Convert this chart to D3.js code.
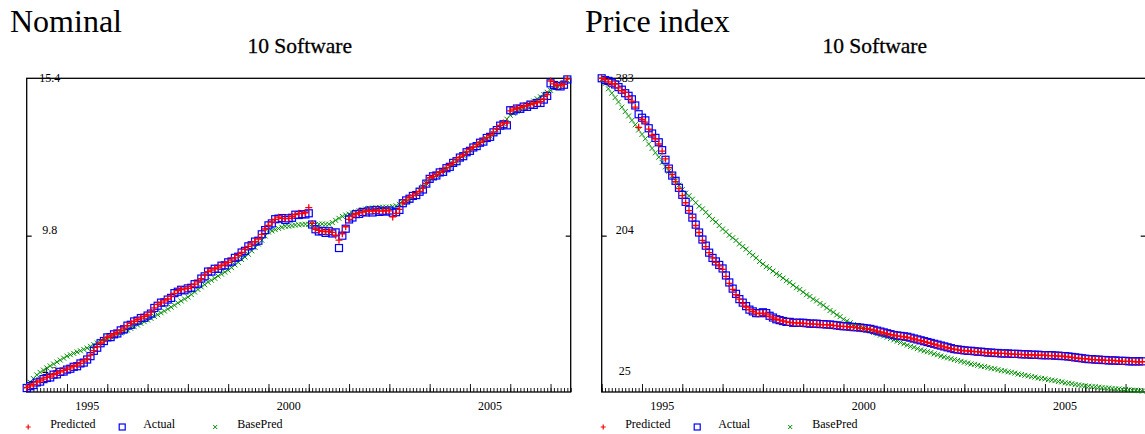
<!DOCTYPE html>
<html>
<head>
<meta charset="utf-8">
<script src="https://cdn.jsdelivr.net/npm/d3@7"></script>
<style>
  html, body { margin: 0; padding: 0; background: #fff; }
  svg { display: block; }
  text { font-family: "Liberation Serif", "Times New Roman", serif; fill: #000; }
</style>
</head>
<body>
<svg id="chart" width="1145" height="434"></svg>
<script>
// Monthly observations, January 1994 onward
const startYear = 1994;
const endYear = 2007.5;
const yearLabels = [1995, 2000, 2005];
const legendLabels = ["Predicted", "Actual", "BasePred"];
const panelTitles = ["Nominal", "Price index"];
const subTitle = "10 Software";

// Nominal
const nominalTicks = ["15.4", "9.8", "4.2"];
const nominalRange = [4.2, 15.4];
const nominalActual = [
  4.34, 4.41, 4.45, 4.54, 4.57, 4.66, 4.70, 4.72, 4.82, 4.83, 4.92, 4.93,
  5.00, 5.03, 5.10, 5.12, 5.22, 5.25, 5.36, 5.48, 5.67, 5.78, 5.94, 6.02,
  6.15, 6.16, 6.26, 6.29, 6.40, 6.44, 6.57, 6.60, 6.72, 6.75, 6.84, 6.85,
  6.93, 7.00, 7.20, 7.28, 7.39, 7.40, 7.50, 7.56, 7.73, 7.78, 7.85, 7.83,
  7.90, 7.92, 8.05, 8.07, 8.25, 8.33, 8.50, 8.50, 8.60, 8.60, 8.71, 8.72,
  8.83, 8.86, 8.99, 9.03, 9.18, 9.24, 9.40, 9.44, 9.57, 9.60, 9.83, 9.98,
  10.15, 10.22, 10.37, 10.39, 10.41, 10.34, 10.40, 10.42, 10.53, 10.52, 10.55, 10.54,
  10.58, 10.18, 10.01, 9.93, 9.95, 9.88, 9.94, 9.86, 9.90, 9.34, 9.78, 10.03,
  10.36, 10.43, 10.55, 10.56, 10.63, 10.61, 10.68, 10.61, 10.69, 10.63, 10.67, 10.64,
  10.68, 10.60, 10.62, 10.70, 10.94, 11.04, 11.10, 11.20, 11.23, 11.35, 11.43, 11.64,
  11.81, 11.90, 11.93, 12.04, 12.06, 12.19, 12.24, 12.38, 12.44, 12.57, 12.62, 12.76,
  12.81, 12.93, 12.98, 13.10, 13.14, 13.27, 13.31, 13.47, 13.55, 13.71, 13.76, 13.72,
  14.26, 14.25, 14.32, 14.31, 14.39, 14.38, 14.46, 14.45, 14.52, 14.52, 14.64, 14.77,
  15.22, 15.16, 15.13, 15.11, 15.17, 15.36
];
const nominalPredicted = [
  4.36, 4.42, 4.47, 4.55, 4.60, 4.66, 4.72, 4.77, 4.82, 4.87, 4.92, 4.97,
  5.01, 5.06, 5.12, 5.16, 5.22, 5.30, 5.38, 5.52, 5.68, 5.82, 5.95, 6.05,
  6.15, 6.20, 6.27, 6.33, 6.40, 6.48, 6.57, 6.65, 6.72, 6.78, 6.84, 6.90,
  6.95, 7.05, 7.20, 7.33, 7.38, 7.45, 7.52, 7.62, 7.72, 7.82, 7.86, 7.88,
  7.90, 7.97, 8.05, 8.13, 8.25, 8.38, 8.50, 8.55, 8.60, 8.66, 8.71, 8.77,
  8.83, 8.91, 8.99, 9.08, 9.18, 9.29, 9.40, 9.48, 9.57, 9.66, 9.83, 10.02,
  10.15, 10.27, 10.36, 10.44, 10.40, 10.39, 10.40, 10.47, 10.53, 10.58, 10.57, 10.60,
  10.78, 10.22, 10.01, 9.97, 9.94, 9.93, 9.93, 9.90, 9.80, 9.62, 9.85, 10.10,
  10.36, 10.48, 10.55, 10.60, 10.62, 10.65, 10.67, 10.66, 10.68, 10.67, 10.66, 10.68,
  10.67, 10.45, 10.58, 10.72, 10.96, 11.05, 11.15, 11.21, 11.28, 11.36, 11.48, 11.65,
  11.85, 11.90, 11.97, 12.04, 12.11, 12.20, 12.29, 12.39, 12.49, 12.58, 12.67, 12.77,
  12.86, 12.94, 13.03, 13.11, 13.19, 13.28, 13.36, 13.48, 13.60, 13.72, 13.80, 13.80,
  14.24, 14.30, 14.33, 14.36, 14.40, 14.43, 14.47, 14.50, 14.53, 14.57, 14.66, 14.82,
  15.30, 15.20, 15.14, 15.16, 15.18, 15.38
];
const nominalBase = [
  4.41, 4.55, 4.68, 4.81, 4.90, 4.98, 5.06, 5.13, 5.20, 5.27, 5.34, 5.41,
  5.48, 5.53, 5.58, 5.63, 5.67, 5.72, 5.77, 5.83, 5.89, 5.95, 6.01, 6.07,
  6.13, 6.17, 6.22, 6.27, 6.31, 6.36, 6.41, 6.47, 6.53, 6.59, 6.65, 6.71,
  6.77, 6.83, 6.90, 6.96, 7.03, 7.09, 7.16, 7.23, 7.30, 7.38, 7.45, 7.52,
  7.59, 7.68, 7.77, 7.86, 7.95, 8.03, 8.12, 8.19, 8.26, 8.34, 8.41, 8.48,
  8.55, 8.64, 8.74, 8.83, 8.93, 9.02, 9.12, 9.24, 9.36, 9.48, 9.62, 9.77,
  9.91, 9.95, 10.00, 10.04, 10.08, 10.12, 10.12, 10.14, 10.16, 10.17, 10.18, 10.19,
  10.19, 10.20, 10.18, 10.19, 10.20, 10.19, 10.19, 10.25, 10.33, 10.40, 10.47, 10.52,
  10.55, 10.59, 10.63, 10.67, 10.70, 10.73, 10.76, 10.77, 10.78, 10.79, 10.80, 10.80,
  10.80, 10.82, 10.85, 10.90, 10.96, 11.00, 11.05, 11.17, 11.29, 11.41, 11.53, 11.65,
  11.76, 11.85, 11.93, 12.01, 12.09, 12.17, 12.26, 12.36, 12.45, 12.55, 12.64, 12.74,
  12.83, 12.91, 13.00, 13.08, 13.16, 13.25, 13.33, 13.44, 13.54, 13.65, 13.79, 13.94,
  14.08, 14.15, 14.22, 14.30, 14.37, 14.44, 14.51, 14.59, 14.67, 14.74, 14.82, 14.90,
  14.97, 15.04, 15.11, 15.18, 15.25, 15.33
];

// Price index
const priceTicks = ["383", "204", "25"];
const priceRange = [25, 383];
const priceActual = [
  383, 381, 380, 378, 376, 373, 370, 366, 363, 359, 352, 342,
  338, 335, 326, 320, 315, 310, 301, 290, 280, 272, 266, 258,
  250, 242, 233, 224, 216, 207, 199, 192, 184, 178, 174, 170,
  166, 158, 150, 143, 137, 131, 127, 123, 119, 117, 115, 115,
  116, 115, 112, 110, 108, 107, 106, 105, 105, 104, 104, 104,
  104, 103.5, 103, 103, 103, 102.5, 102.5, 102, 102, 101.5, 101, 100.5,
  100, 100, 99.5, 99, 99, 98.5, 98, 97.5, 97, 96, 95, 94,
  93, 92, 91, 90, 89.5, 89, 88.5, 88, 87, 86, 85, 84,
  83, 82, 81, 80, 79, 78, 77, 76, 75, 74, 73.5, 73,
  72.5, 72, 72, 71.5, 71, 71, 70.5, 70, 70, 69.5, 69.5, 69,
  69, 69, 68.5, 68.5, 68.5, 68, 68, 68, 67.5, 67.5, 67.5, 67,
  67, 67, 67, 66.5, 66.5, 66, 66, 65.5, 65, 64.5, 64, 63.5,
  63, 62.5, 62.5, 62, 62, 61.5, 61.5, 61, 61, 61, 60.5, 60.5,
  60.5, 60, 60, 60, 60, 60
];
const pricePredicted = [
  383, 381.5, 379, 377, 376.5, 372, 369, 367, 362, 357, 350, 327,
  336, 333, 325, 318, 314, 308, 300, 291, 281, 273, 265, 257,
  249, 241, 232, 224, 215, 207, 198, 191, 184, 178, 173, 169,
  165, 157, 149, 142, 136, 131, 126, 122, 119, 117, 115, 114.5,
  115, 114, 111.5, 109.5, 108, 107, 106, 105, 104.5, 104, 104, 103.5,
  103.5, 103, 103, 102.5, 102.5, 102, 102, 101.5, 101.5, 101, 100.5, 100,
  100, 99.5, 99, 99, 98.5, 98, 97.5, 97, 96.5, 95.5, 94.5, 93.5,
  92.5, 91.5, 90.5, 90, 89, 88.5, 88, 87.5, 86.5, 85.5, 84.5, 83.5,
  82.5, 81.5, 80.5, 79.5, 78.5, 77.5, 76.5, 75.5, 74.5, 74, 73, 72.5,
  72, 72, 71.5, 71, 71, 70.5, 70, 70, 69.5, 69.5, 69, 69,
  69, 68.5, 68.5, 68, 68, 68, 67.5, 67.5, 67.5, 67, 67, 67,
  67, 66.5, 66.5, 66.5, 66, 66, 65.5, 65, 64.5, 64, 63.5, 63,
  63, 62.5, 62, 62, 61.5, 61.5, 61, 61, 61, 60.5, 60.5, 60,
  60, 60, 60, 59.5, 59.5, 59.5
];
const priceBase = [
  382, 377, 371, 366, 361, 356, 350, 345, 340, 335, 330, 324,
  319, 314, 308, 303, 298, 293, 287, 282, 277, 272, 266, 261,
  256, 252, 249, 245, 241, 237, 234, 230, 226, 222, 219, 215,
  211, 208, 204, 201, 198, 194, 191, 188, 184, 181, 178, 174,
  171, 168, 166, 163, 160, 158, 155, 152, 150, 147, 144, 142,
  139, 136, 134, 131, 129, 126, 124, 121, 118, 116, 113, 111,
  108, 106, 104, 102, 100, 99, 97.5, 96, 94.5, 93, 91.5, 90,
  89, 87.5, 86, 84.5, 83, 81.5, 80, 78.5, 77, 76, 74.5, 73,
  72, 71, 70, 68.5, 67.5, 66, 65, 64, 63, 62, 61, 60,
  59, 58, 57, 56.5, 55.5, 54.5, 54, 53, 52, 51.5, 50.5, 49.5,
  49, 48, 47.5, 46.5, 45.5, 45, 44, 43.5, 42.5, 42, 41, 40.5,
  40, 39, 38.5, 38, 37, 36.5, 35.5, 35, 34.5, 33.5, 33, 32.5,
  32, 31.5, 31, 31, 30.5, 30, 29.5, 29.5, 29, 28.5, 28.5, 28,
  28, 27.5, 27, 27, 26.5, 26
];

const colors = { predicted: "#ff0000", actual: "#0000ff", base: "#009000" };

const svg = d3.select("#chart");
const plotTop = 78.3, plotBottom = 392, plotWidth = 544;

const markerPaths = {
  predicted: "M-3.5,0H3.5M0,-3.5V3.5",
  base: "M-2.5,-2.5L2.5,2.5M-2.5,2.5L2.5,-2.5"
};

function drawPanel(left, title, tickLabels, range, actual, predicted, base) {
  const g = svg.append("g");
  const right = left + plotWidth;
  const x = d3.scaleLinear().domain([startYear, endYear]).range([left, right]);
  const y = d3.scaleLinear().domain(range).range([plotBottom, plotTop]);
  const t = i => startYear + i / 12;

  // headings
  g.append("text").attr("x", left - 16.7).attr("y", 32)
    .style("font-size", "32px").text(title);
  g.append("text").attr("x", (left + right) / 2 + 1).attr("y", 53)
    .attr("text-anchor", "middle").style("font-size", "21.5px")
    .style("stroke", "#000").style("stroke-width", 0.3).text(subTitle);

  // frame
  g.append("rect").attr("x", left).attr("y", plotTop)
    .attr("width", plotWidth).attr("height", plotBottom - plotTop)
    .attr("fill", "none").attr("stroke", "#000").attr("stroke-width", 1.3);

  // bottom axis: monthly minor ticks, yearly major ticks, pointing inward
  const monthTicks = d3.range(0, (endYear - startYear) * 12 + 1).map(t);
  const yearTicks = d3.range(startYear, Math.floor(endYear) + 1);
  const minor = d3.axisBottom(x).tickValues(monthTicks).tickSizeInner(-4)
    .tickSizeOuter(0).tickFormat("");
  const major = d3.axisBottom(x).tickValues(yearTicks).tickSizeInner(-8)
    .tickSizeOuter(0).tickFormat("");
  [minor, major].forEach(ax => {
    const a = g.append("g").attr("transform", `translate(0,${plotBottom})`).call(ax);
    a.select(".domain").remove();
    a.selectAll("line").attr("stroke", "#000").attr("stroke-width", 0.9);
  });
  g.selectAll(null).data(yearLabels).join("text")
    .attr("x", d => x(d + 0.5)).attr("y", 410)
    .attr("text-anchor", "middle").style("font-size", "12px").text(d => d);

  // value labels at top, middle and bottom of the scale
  const mid = (range[0] + range[1]) / 2;
  const labelY = [y(range[1]) + 4, y(mid) - 1.5, y(range[0]) - 17];
  g.selectAll(null).data(tickLabels).join("text")
    .attr("x", left + 23).attr("y", (d, i) => labelY[i])
    .attr("text-anchor", "middle").style("font-size", "12px").text(d => d);
  g.append("line").attr("x1", left).attr("x2", left + 5)
    .attr("y1", y(mid) + 1).attr("y2", y(mid) + 1).attr("stroke", "#000").attr("stroke-width", 1.2);
  g.append("line").attr("x1", right - 5).attr("x2", right)
    .attr("y1", y(mid) + 1).attr("y2", y(mid) + 1).attr("stroke", "#000").attr("stroke-width", 1.2);

  // series markers
  g.append("g").selectAll("path").data(base).join("path")
    .attr("transform", (d, i) => `translate(${x(t(i))},${y(d)})`)
    .attr("d", markerPaths.base).attr("stroke", colors.base)
    .attr("stroke-width", 1).attr("fill", "none");
  g.append("g").selectAll("rect").data(actual).join("rect")
    .attr("x", (d, i) => x(t(i)) - 3.5).attr("y", d => y(d) - 3.5)
    .attr("width", 7).attr("height", 7)
    .attr("fill", "none").attr("stroke", colors.actual).attr("stroke-width", 1.2);
  g.append("g").selectAll("path").data(predicted).join("path")
    .attr("transform", (d, i) => `translate(${x(t(i))},${y(d)})`)
    .attr("d", markerPaths.predicted).attr("stroke", colors.predicted)
    .attr("stroke-width", 1.3).attr("fill", "none");

  // legend
  const legendX = [left + 1.5, left + 95.5, left + 188.5];
  const textX = [left + 23.5, left + 116.5, left + 210.5];
  const lg = g.append("g");
  lg.append("path").attr("transform", `translate(${legendX[0]},427)`)
    .attr("d", "M-2.5,0H2.5M0,-2.5V2.5").attr("stroke", colors.predicted).attr("stroke-width", 1.2);
  lg.append("rect").attr("x", legendX[1] - 3).attr("y", 424).attr("width", 6).attr("height", 6)
    .attr("fill", "none").attr("stroke", colors.actual).attr("stroke-width", 1.2);
  lg.append("path").attr("transform", `translate(${legendX[2]},427)`)
    .attr("d", "M-2,-2L2,2M-2,2L2,-2").attr("stroke", colors.base).attr("stroke-width", 1);
  lg.selectAll("text").data(legendLabels).join("text")
    .attr("x", (d, i) => textX[i]).attr("y", 428)
    .style("font-size", "12px").text(d => d);
}

drawPanel(26.7, panelTitles[0], nominalTicks, nominalRange, nominalActual, nominalPredicted, nominalBase);
drawPanel(601.7, panelTitles[1], priceTicks, priceRange, priceActual, pricePredicted, priceBase);
</script>
</body>
</html>
